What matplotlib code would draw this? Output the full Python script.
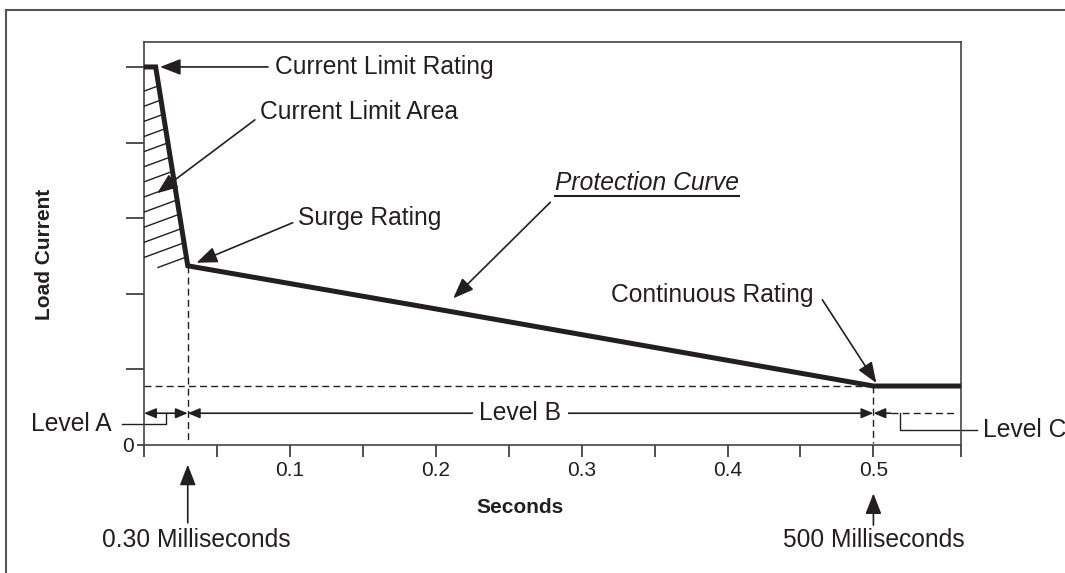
import numpy as np
import matplotlib
matplotlib.use('Agg')
import matplotlib.pyplot as plt
from matplotlib.lines import Line2D

plt.rcParams['font.family'] = ['Liberation Sans', 'DejaVu Sans']

# protection curve (seconds vs. load current, arbitrary units)
time_s = [0.0, 0.008, 0.03, 0.2, 0.4, 0.5, 0.56]
load_current = [5.0, 5.0, 2.37, 1.80, 1.12, 0.78, 0.78]

x_major = [0.1, 0.2, 0.3, 0.4, 0.5]
x_labels = ['0.1', '0.2', '0.3', '0.4', '0.5']
x_minor = [0.0, 0.05, 0.15, 0.25, 0.35, 0.45, 0.56]
y_major = [1, 2, 3, 4, 5]

surge_t = 0.03
cont_t = 0.5
cont_level = 0.78
level_y = 0.42

INK = '#231f20'
FS = 17.7

fig = plt.figure(figsize=(10.65, 5.73), dpi=100)
ax = fig.add_axes([0.1352, 0.2234, 0.7671, 0.7033])
ax.set_xlim(0, 0.56)
ax.set_ylim(0, 5.33)

for s in ax.spines.values():
    s.set_color('#444444')
    s.set_linewidth(1.2)

ax.set_xticks(x_major)
ax.set_xticklabels(x_labels)
ax.set_xticks(x_minor, minor=True)
ax.tick_params(axis='x', which='both', direction='out', length=8.6, width=1.1,
               color=INK, labelsize=15, labelcolor=INK, pad=3)
ax.set_yticks(y_major)
ax.set_yticklabels([])
ax.set_yticks([0], minor=True)
ax.set_yticklabels(['0'], minor=True)
ax.tick_params(axis='y', which='major', direction='out', length=13, width=1.1, color=INK)
ax.tick_params(axis='y', which='minor', direction='out', length=5, width=1.1, color=INK,
               labelsize=15, labelcolor=INK, pad=2)

# hatch in the current limit area
k = 7.1
xs = np.linspace(0, surge_t, 600)
curve_y = np.interp(xs, time_s, load_current)
for y0 in np.arange(4.68, 2.2, -0.2):
    line_y = y0 + k * xs
    hit = np.argmax(line_y >= curve_y)
    x0 = 0.0 if y0 > load_current[2] else 0.0096
    x1 = xs[hit]
    ax.plot([x0, x1], [y0 + k * x0, y0 + k * x1], color=INK, lw=1.0, zorder=3)

# dashed guides
dash = (0, (5, 3))
ax.plot([0, cont_t], [cont_level, cont_level], ls=dash, lw=1.0, color=INK)
ax.plot([surge_t, surge_t], [load_current[2], 0.05], ls=dash, lw=1.0, color=INK)
ax.plot([cont_t, cont_t], [cont_level, 0.02], ls=dash, lw=1.0, color=INK)

# main curve
ax.plot(time_s, load_current, color=INK, lw=3.6, solid_joinstyle='miter',
        solid_capstyle='butt', zorder=5, clip_on=False)


def pointer(tip, tail):
    ax.annotate('', xy=tip, xytext=tail, annotation_clip=False,
                arrowprops=dict(arrowstyle='-|>,head_length=0.9,head_width=0.35',
                                mutation_scale=14, lw=1.2, color=INK,
                                shrinkA=0, shrinkB=0))


def span(a, b):
    ax.annotate('', xy=(a, level_y), xytext=(b, level_y), annotation_clip=False,
                arrowprops=dict(arrowstyle='<|-|>,head_length=0.6,head_width=0.25',
                                mutation_scale=12, lw=1.2, color=INK,
                                shrinkA=0, shrinkB=0))


def label(x, y, s, ha='left', **kw):
    return ax.text(x, y, s, ha=ha, va='center', fontsize=FS, color=INK,
                   clip_on=False, **kw)


label(0.0898, 5.0, 'Current Limit Rating')
pointer((0.011, 5.0), (0.085, 5.0))

label(0.0796, 4.40, 'Current Limit Area')
pointer((0.009, 3.33), (0.076, 4.30))

label(0.1056, 3.00, 'Surge Rating')
pointer((0.036, 2.41), (0.102, 2.94))

pc = label(0.282, 3.47, 'Protection Curve', style='italic')
pointer((0.212, 1.94), (0.2785, 3.21))

label(0.459, 1.98, 'Continuous Rating', ha='right')
pointer((0.502, 0.82), (0.465, 1.92))

label(0.036, -1.26, '0.30 Milliseconds', ha='center')
pointer((surge_t, -0.26), (surge_t, -1.03))
label(cont_t, -1.26, '500 Milliseconds', ha='center')
pointer((cont_t, -0.64), (cont_t, -1.06))

# level spans
span(0, surge_t)
span(surge_t, cont_t)
label(0.258, level_y, 'Level B', ha='center',
      bbox=dict(boxstyle='square,pad=0.25', fc='white', ec='none'), zorder=6)
label(-0.022, 0.28, 'Level A', ha='right')
ax.plot([-0.015, 0.0151, 0.0151], [0.28, 0.28, level_y], color=INK, lw=1.0, clip_on=False)

ax.annotate('', xy=(cont_t, level_y), xytext=(0.512, level_y), annotation_clip=False,
            arrowprops=dict(arrowstyle='-|>,head_length=0.6,head_width=0.25',
                            mutation_scale=12, lw=1.2, color=INK, shrinkA=0, shrinkB=0))
ax.plot([0.512, 0.557], [level_y, level_y], ls=dash, lw=1.0, color=INK)
ax.plot([0.5185, 0.5185, 0.571], [level_y, 0.2, 0.2], color=INK, lw=1.0, clip_on=False)
label(0.575, 0.2, 'Level C')

ax.text(0.46, -0.156, 'Seconds', transform=ax.transAxes, ha='center', va='center',
        fontsize=15, fontweight='bold', color=INK)
ax.text(-0.122, 0.474, 'Load Current', transform=ax.transAxes, ha='center', va='center',
        rotation=90, fontsize=15, fontweight='bold', color=INK)

# underline for the italic heading
fig.canvas.draw()
bb = pc.get_window_extent(fig.canvas.get_renderer())
inv = fig.transFigure.inverted()
(u0, v0), (u1, _) = inv.transform([(bb.x0, bb.y0 - 1), (bb.x1, bb.y0 - 1)])
fig.add_artist(Line2D([u0, u1], [v0, v0], transform=fig.transFigure, color=INK, lw=1.5))

# outer frame (top and left edges)
fx = 6 / 1065
fy = 1 - 10 / 573
fig.add_artist(Line2D([fx, 1], [fy, fy], transform=fig.transFigure, color='#555555', lw=1.5))
fig.add_artist(Line2D([fx, fx], [0, fy], transform=fig.transFigure, color='#555555', lw=1.5))

fig.savefig('out.png', dpi=100)
